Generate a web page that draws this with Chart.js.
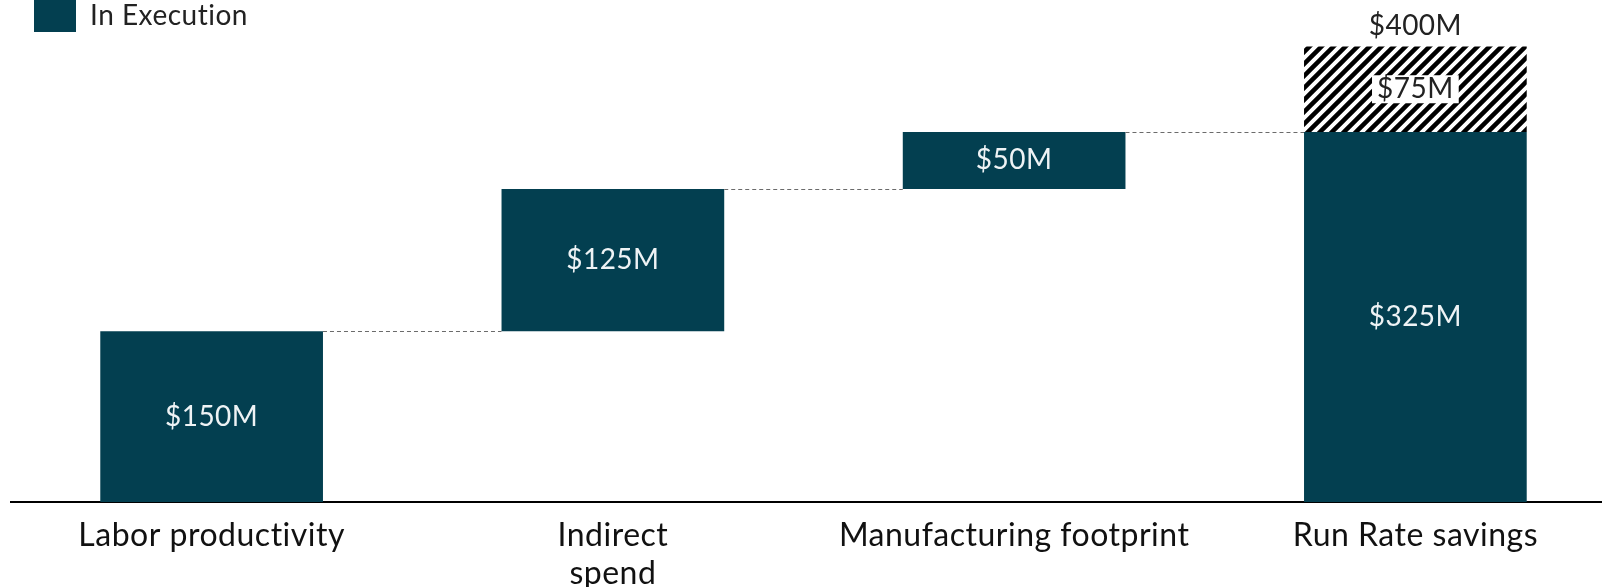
<!DOCTYPE html>
<html>
<head>
<meta charset="utf-8">
<script src="https://cdn.jsdelivr.net/npm/chart.js@4"></script>
<style>
  html, body { margin: 0; padding: 0; background: #fff; overflow: hidden; }
  #wrap { width: 1616px; height: 587px; position: relative; }
</style>
</head>
<body>
<div id="wrap"><canvas id="myChart"></canvas></div>
<script>
const categories = ["Labor productivity", ["Indirect", "spend"], "Manufacturing footprint", "Run Rate savings"];
const inExecution = [150, 125, 50, 325];
const pipeline = [null, null, null, 75];
const isTotal = [false, false, false, true];

const barColor = "#033f50";

// floating bar ranges for the waterfall
let running = 0;
const execRanges = inExecution.map((v, i) => {
  if (isTotal[i]) return [0, v];
  const r = [running, running + v];
  running += v;
  return r;
});
const pipeRanges = pipeline.map((v, i) => (v == null ? null : [execRanges[i][1], execRanges[i][1] + v]));

// diagonal hatch
function makeHatch() {
  const s = 12;
  const c = document.createElement("canvas");
  c.width = s;
  c.height = s;
  const g = c.getContext("2d");
  g.fillStyle = "#fff";
  g.fillRect(0, 0, s, s);
  g.strokeStyle = "#000";
  g.lineWidth = 4.5;
  g.beginPath();
  g.moveTo(0, s); g.lineTo(s, 0);
  g.moveTo(-s / 2, s / 2); g.lineTo(s / 2, -s / 2);
  g.moveTo(s / 2, s * 1.5); g.lineTo(s * 1.5, s / 2);
  g.stroke();
  return g.createPattern(c, "repeat");
}

// slight letter spacing (also stops Lato's "ti" ligature)
const spacing = {
  id: "spacing",
  beforeLayout(chart) { chart.ctx.letterSpacing = "0.5px"; },
  beforeDraw(chart) { chart.ctx.letterSpacing = "0.5px"; },
};

const waterfallLabels = {
  id: "waterfallLabels",
  afterDatasetsDraw(chart) {
    const ctx = chart.ctx;
    const y = chart.scales.y;
    const execMeta = chart.getDatasetMeta(0);
    const pipeMeta = chart.getDatasetMeta(1);
    ctx.save();

    // dashed connectors
    ctx.strokeStyle = "#6b6b6b";
    ctx.lineWidth = 1;
    ctx.setLineDash([4, 3]);
    for (let i = 0; i < execRanges.length - 1; i++) {
      const a = execMeta.data[i];
      const b = execMeta.data[i + 1];
      const py = Math.round(y.getPixelForValue(execRanges[i][1])) + 0.5;
      ctx.beginPath();
      ctx.moveTo(a.x + a.width / 2, py);
      ctx.lineTo(b.x - b.width / 2, py);
      ctx.stroke();
    }
    ctx.setLineDash([]);

    ctx.font = "28px Lato";
    ctx.textAlign = "center";
    ctx.textBaseline = "middle";

    // values inside bars
    ctx.fillStyle = "#eef3f5";
    execMeta.data.forEach((bar, i) => {
      ctx.fillText("$" + inExecution[i] + "M", bar.x, (bar.y + bar.base) / 2);
    });

    // pipeline value with white box, plus total above
    pipeMeta.data.forEach((bar, i) => {
      if (pipeline[i] == null) return;
      const cy = (bar.y + bar.base) / 2;
      const txt = "$" + pipeline[i] + "M";
      const w = ctx.measureText(txt).width + 10;
      ctx.fillStyle = "#fff";
      ctx.fillRect(bar.x - w / 2, cy - 14, w, 28);
      ctx.fillStyle = "#222";
      ctx.fillText(txt, bar.x, cy);
      ctx.fillText("$" + pipeRanges[i][1] + "M", bar.x, bar.y - 21);
    });
    ctx.restore();
  },
};

const ctx = document.getElementById("myChart");

new Chart(ctx, {
  type: "bar",
  data: {
    labels: categories,
    datasets: [
      {
        label: "In Execution",
        data: execRanges,
        backgroundColor: barColor,
        borderWidth: 0,
        grouped: false,
        barPercentage: 0.555,
        categoryPercentage: 1,
      },
      {
        label: "Pipeline",
        data: pipeRanges,
        backgroundColor: makeHatch(),
        borderWidth: 0,
        grouped: false,
        barPercentage: 0.555,
        categoryPercentage: 1,
      },
    ],
  },
  options: {
    responsive: true,
    maintainAspectRatio: false,
    animation: false,
    layout: {
      padding: { top: -23, left: 11, right: 0, bottom: 0 },
    },
    scales: {
      x: {
        grid: { display: false },
        border: { display: true, color: "#000", width: 2 },
        ticks: {
          color: "#111",
          font: { family: "Lato", size: 32, lineHeight: 1.18 },
          padding: 7,
          maxRotation: 0,
          autoSkip: false,
        },
        afterFit(scale) {
          scale.height = 85;
        },
      },
      y: {
        display: false,
        min: 0,
        max: 404,
      },
    },
    plugins: {
      tooltip: { enabled: false },
      legend: {
        position: "top",
        align: "start",
        labels: {
          boxWidth: 42,
          boxHeight: 32,
          padding: 23,
          color: "#222",
          font: { family: "Lato", size: 28 },
          filter: (item) => item.datasetIndex === 0,
        },
      },
    },
  },
  plugins: [spacing, waterfallLabels],
});
</script>
</body>
</html>
